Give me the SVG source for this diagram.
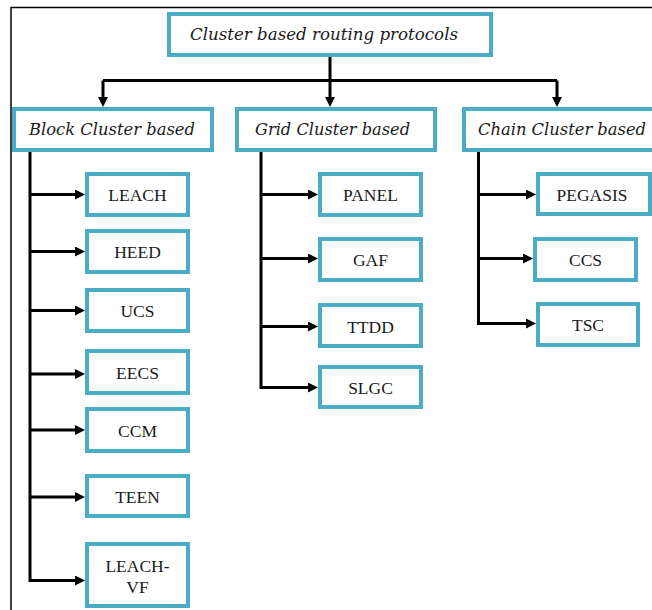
<svg xmlns="http://www.w3.org/2000/svg" width="652" height="610" viewBox="0 0 652 610">
  <style>
    .box { fill: #ffffff; stroke: #4bacc6; stroke-width: 4; }
    .head { font-family: "DejaVu Serif", "Liberation Serif", serif; font-style: italic; font-size: 16.5px; fill: #1a1a1a; }
    .leaf { font-family: "Liberation Serif", "Times New Roman", serif; font-size: 17.5px; fill: #1a1a1a; text-anchor: middle; }
    .wire { fill: none; stroke: #000000; stroke-width: 3; stroke-linejoin: miter; }
    .frame { fill: none; stroke: #000000; stroke-width: 1.5; }
  </style>
  <defs>
    <marker id="ah" viewBox="0 0 10 10" refX="0" refY="5" markerWidth="10" markerHeight="10" markerUnits="userSpaceOnUse" orient="auto">
      <path d="M0,0 L10,5 L0,10 z" fill="#000000"/>
    </marker>
  </defs>
  <rect width="652" height="610" fill="#ffffff"/>
  <!-- page frame (top and left edges only) -->
  <path class="frame" d="M11,610 V7.5 H652"/>

  <g id="connectors">
    <!-- root to categories -->
    <path class="wire" d="M330,57 V80.5"/>
    <path class="wire" d="M103,80.5 H557"/>
    <path class="wire" d="M103,80.5 V97" marker-end="url(#ah)"/>
    <path class="wire" d="M330,80.5 V97" marker-end="url(#ah)"/>
    <path class="wire" d="M557,80.5 V97" marker-end="url(#ah)"/>
    <!-- block cluster trunk -->
    <path class="wire" d="M30,151 V580.5 H75" marker-end="url(#ah)"/>
    <path class="wire" d="M30,194.5 H75" marker-end="url(#ah)"/>
    <path class="wire" d="M30,251.5 H75" marker-end="url(#ah)"/>
    <path class="wire" d="M30,310.5 H75" marker-end="url(#ah)"/>
    <path class="wire" d="M30,374 H75" marker-end="url(#ah)"/>
    <path class="wire" d="M30,430 H75" marker-end="url(#ah)"/>
    <path class="wire" d="M30,497 H75" marker-end="url(#ah)"/>
    <!-- grid cluster trunk -->
    <path class="wire" d="M261,151 V387.5 H308" marker-end="url(#ah)"/>
    <path class="wire" d="M261,194.5 H308" marker-end="url(#ah)"/>
    <path class="wire" d="M261,258.5 H308" marker-end="url(#ah)"/>
    <path class="wire" d="M261,326.5 H308" marker-end="url(#ah)"/>
    <!-- chain cluster trunk -->
    <path class="wire" d="M478.5,151 V323.5 H526" marker-end="url(#ah)"/>
    <path class="wire" d="M478.5,194.5 H526" marker-end="url(#ah)"/>
    <path class="wire" d="M478.5,258.5 H523" marker-end="url(#ah)"/>
  </g>

  <g id="root">
    <rect class="box" x="169" y="14" width="322" height="41"/>
    <text class="head" x="190" y="40" textLength="268" lengthAdjust="spacingAndGlyphs">Cluster based routing protocols</text>
  </g>

  <g id="block">
    <rect class="box" x="14" y="109" width="198" height="41"/>
    <text class="head" x="29" y="135" textLength="166" lengthAdjust="spacingAndGlyphs">Block Cluster based</text>
  </g>
  <g id="grid">
    <rect class="box" x="237" y="109" width="198" height="41"/>
    <text class="head" x="255" y="135" textLength="155" lengthAdjust="spacingAndGlyphs">Grid Cluster based</text>
  </g>
  <g id="chain">
    <rect class="box" x="464" y="109" width="196" height="41"/>
    <text class="head" x="478" y="135" textLength="168" lengthAdjust="spacingAndGlyphs">Chain Cluster based</text>
  </g>

  <g id="leach">
    <rect class="box" x="87" y="174" width="101" height="41"/>
    <text class="leaf" x="137.5" y="201">LEACH</text>
  </g>
  <g id="heed">
    <rect class="box" x="87" y="231" width="101" height="41"/>
    <text class="leaf" x="137.5" y="258">HEED</text>
  </g>
  <g id="ucs">
    <rect class="box" x="87" y="290" width="101" height="41"/>
    <text class="leaf" x="137.5" y="317">UCS</text>
  </g>
  <g id="eecs">
    <rect class="box" x="87" y="351" width="101" height="42"/>
    <text class="leaf" x="137.5" y="378.5">EECS</text>
  </g>
  <g id="ccm">
    <rect class="box" x="87" y="409" width="101" height="42"/>
    <text class="leaf" x="137.5" y="436.5">CCM</text>
  </g>
  <g id="teen">
    <rect class="box" x="87" y="476" width="101" height="40"/>
    <text class="leaf" x="137.5" y="503">TEEN</text>
  </g>
  <g id="leach-vf">
    <rect class="box" x="87" y="544" width="101" height="62"/>
    <text class="leaf" x="137.5" y="571.5">LEACH-</text>
    <text class="leaf" x="137.5" y="593">VF</text>
  </g>

  <g id="panel">
    <rect class="box" x="320" y="174" width="101" height="41"/>
    <text class="leaf" x="370.5" y="201">PANEL</text>
  </g>
  <g id="gaf">
    <rect class="box" x="320" y="239" width="101" height="41"/>
    <text class="leaf" x="370.5" y="265.5">GAF</text>
  </g>
  <g id="ttdd">
    <rect class="box" x="320" y="305" width="101" height="41"/>
    <text class="leaf" x="370.5" y="332.5">TTDD</text>
  </g>
  <g id="slgc">
    <rect class="box" x="320" y="367" width="101" height="40"/>
    <text class="leaf" x="370.5" y="394">SLGC</text>
  </g>

  <g id="pegasis">
    <rect class="box" x="538" y="174" width="112" height="40"/>
    <text class="leaf" x="592" y="201">PEGASIS</text>
  </g>
  <g id="ccs">
    <rect class="box" x="535" y="239" width="101" height="41"/>
    <text class="leaf" x="585.5" y="265.5">CCS</text>
  </g>
  <g id="tsc">
    <rect class="box" x="538" y="304" width="100" height="41"/>
    <text class="leaf" x="588" y="330.5">TSC</text>
  </g>
</svg>
